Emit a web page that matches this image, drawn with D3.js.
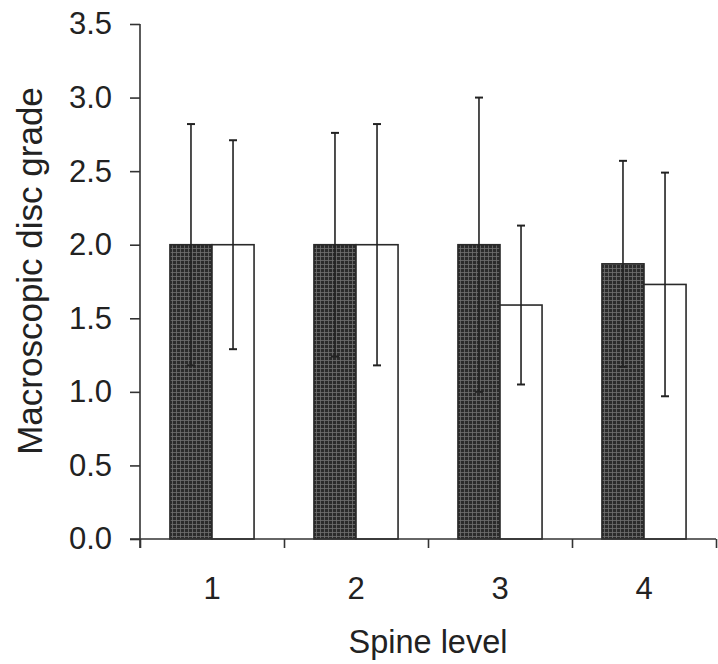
<!DOCTYPE html>
<html>
<head>
<meta charset="utf-8">
<script src="https://cdn.jsdelivr.net/npm/d3@7"></script>
<style>
  body { margin: 0; background: #fff; }
  text { font-family: Arial, "Liberation Sans", sans-serif; fill: #222; }
</style>
</head>
<body>
<div id="vis"></div>
<script>
// chart data
var levels = ["1", "2", "3", "4"];
var series = ["dark", "light"];
var darkMean = [2.0, 2.0, 2.0, 1.87];
var darkSD = [0.82, 0.76, 1.0, 0.70];
var lightMean = [2.0, 2.0, 1.59, 1.73];
var lightSD = [0.71, 0.82, 0.54, 0.76];
var yTicks = [0, 0.5, 1.0, 1.5, 2.0, 2.5, 3.0, 3.5];

var width = 718,
    height = 664;

var margin = {top: 24, right: 2, bottom: 125, left: 140},
    graphWidth = width - margin.left - margin.right,
    graphHeight = height - margin.top - margin.bottom;

var svg = d3.select("#vis")
  .append("svg")
  .attr("width", width)
  .attr("height", height);

// crosshatch fill for the dark bars
var defs = svg.append("defs");
var pat = defs.append("pattern")
  .attr("id", "hatch")
  .attr("patternUnits", "userSpaceOnUse")
  .attr("width", 4)
  .attr("height", 4);
pat.append("rect").attr("width", 4).attr("height", 4).attr("fill", "#2b2b2b");
pat.append("path").attr("d", "M0,0.5H4M0.5,0V4")
  .attr("stroke", "#707070").attr("stroke-width", 0.8);

var graph = svg.append("g")
  .attr("transform", "translate(" + margin.left + "," + margin.top + ")");

var x = d3.scaleBand().domain(levels).range([0, graphWidth]).padding(0);
var inner = d3.scaleBand().domain(series)
  .range([x.bandwidth() * 0.208, x.bandwidth() * 0.792]);
var y = d3.scaleLinear().domain([0, 3.5]).range([graphHeight, 0]);
var edges = d3.scaleLinear().domain([0, levels.length]).range([0, graphWidth]);

var data = levels.map(function(l, i) {
  return [
    {level: l, key: "dark", mean: darkMean[i], sd: darkSD[i]},
    {level: l, key: "light", mean: lightMean[i], sd: lightSD[i]}
  ];
});
var flat = d3.merge(data);

// bars
graph.selectAll(".bar")
  .data(flat)
  .enter().append("rect")
    .attr("class", "bar")
    .attr("x", function(d) { return x(d.level) + inner(d.key); })
    .attr("y", function(d) { return y(d.mean); })
    .attr("width", inner.bandwidth())
    .attr("height", function(d) { return graphHeight - y(d.mean); })
    .attr("fill", function(d) { return d.key == "dark" ? "url(#hatch)" : "#fff"; })
    .attr("stroke", "#2a2a2a")
    .attr("stroke-width", 1.6);

// error bars
var err = graph.selectAll(".err")
  .data(flat)
  .enter().append("g")
    .attr("class", "err")
    .attr("transform", function(d) {
      return "translate(" + (x(d.level) + inner(d.key) + inner.bandwidth() / 2) + ",0)";
    });

err.append("line")
  .attr("y1", function(d) { return y(d.mean + d.sd); })
  .attr("y2", function(d) { return y(d.mean - d.sd); })
  .attr("stroke", "#222")
  .attr("stroke-width", 1.6);

err.selectAll(".cap")
  .data(function(d) { return [d.mean + d.sd, d.mean - d.sd]; })
  .enter().append("line")
    .attr("class", "cap")
    .attr("x1", -4).attr("x2", 4)
    .attr("y1", function(v) { return y(v); })
    .attr("y2", function(v) { return y(v); })
    .attr("stroke", "#222")
    .attr("stroke-width", 2);

// y axis
var yAxis = graph.append("g")
  .call(d3.axisLeft(y).tickValues(yTicks).tickFormat(d3.format(".1f")).tickSize(10).tickPadding(18));
yAxis.select(".domain").attr("d", "M0,0V" + (graphHeight + 9));

// x axis line and tick marks at band edges
var xAxis = graph.append("g")
  .attr("transform", "translate(0," + graphHeight + ")")
  .call(d3.axisBottom(edges).ticks(levels.length).tickFormat("").tickSize(9).tickSizeOuter(0));
xAxis.select(".domain").attr("d", "M-10,0H" + graphWidth);

// category labels
graph.append("g")
  .attr("transform", "translate(0," + graphHeight + ")")
  .call(d3.axisBottom(x).tickSize(0).tickPadding(38))
  .call(function(g) { g.select(".domain").remove(); });

graph.selectAll(".domain, .tick line")
  .attr("stroke", "#333")
  .attr("stroke-width", 1.6);
graph.selectAll(".tick text")
  .attr("font-size", "31px")
  .attr("fill", "#222")
  .style("font-family", "Arial, 'Liberation Sans', sans-serif");

// axis titles
svg.append("text")
  .attr("x", margin.left + graphWidth / 2)
  .attr("y", 653)
  .attr("text-anchor", "middle")
  .attr("font-size", "32.5px")
  .text("Spine level");

svg.append("text")
  .attr("transform", "translate(42,271) rotate(-90)")
  .attr("text-anchor", "middle")
  .attr("font-size", "35px")
  .text("Macroscopic disc grade");
</script>
</body>
</html>
